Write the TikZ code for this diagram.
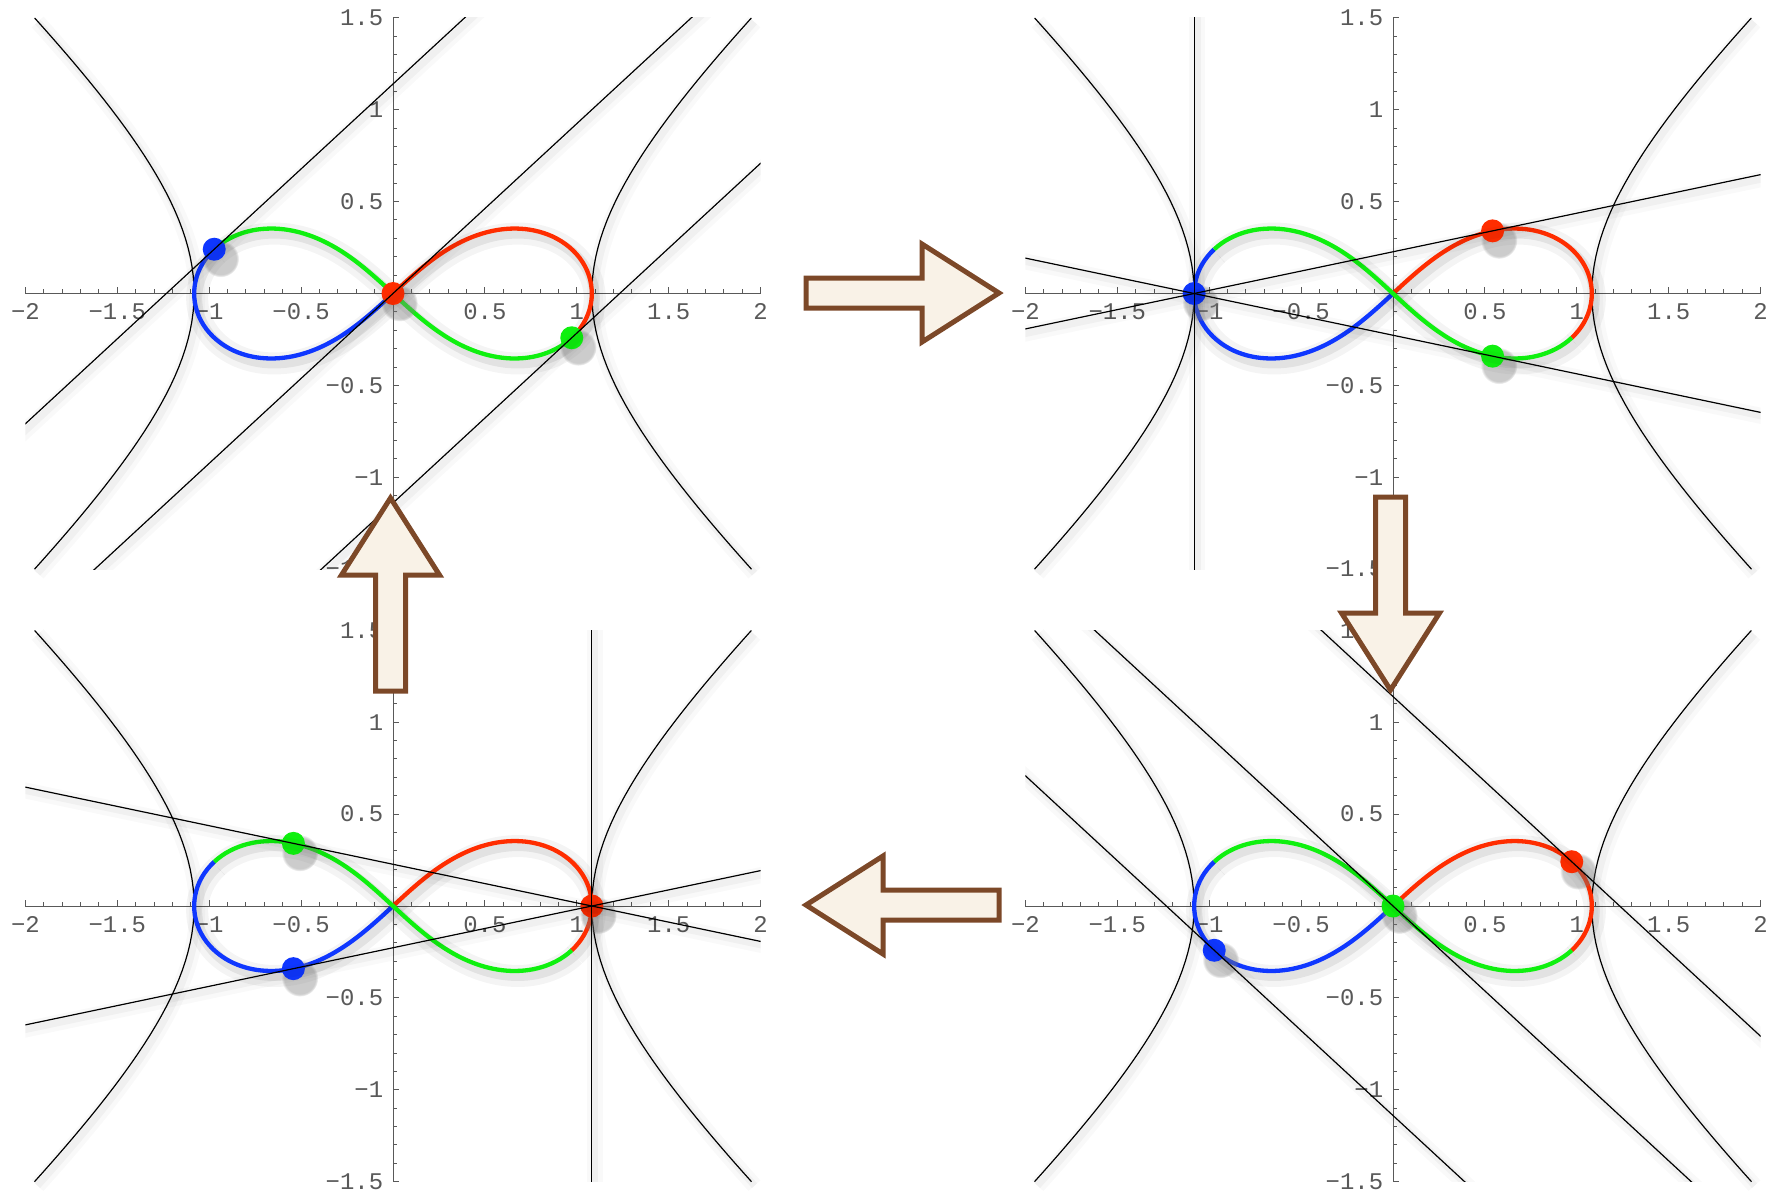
\documentclass[tikz,border=0pt]{standalone}
\usepackage{fontspec}
\newfontfamily\tickfont{Liberation Mono}
\usetikzlibrary{calc,shadows}

\definecolor{lemred}{RGB}{255,45,0}
\definecolor{lemgreen}{RGB}{15,240,15}
\definecolor{lemblue}{RGB}{15,55,255}
\definecolor{arrowedge}{RGB}{124,72,40}
\definecolor{arrowfill}{RGB}{249,242,231}

% horizontal stretch of the curves
\newcommand{\sx}{1.082}

% axes, hyperbola and coloured lemniscate of one panel
\newcommand{\lemnframe}[1]{%
  \draw[axis] (-2,0) -- (2,0);
  \draw[axis] (0,-1.5) -- (0,1.5);
  \foreach \i in {-20,...,20} \draw[axis] (\i/10,0) -- ++(0,0.022);
  \foreach \i in {-4,...,4} \draw[axis] (\i/2,0) -- ++(0,0.033);
  \foreach \i in {-15,...,15} \draw[axis] (0,\i/10) -- ++(0.022,0);
  \foreach \i in {-3,...,3} \draw[axis] (0,\i/2) -- ++(0.033,0);
  \foreach \v/\lab [count=\k] in {-2/−2,-1.5/−1.5,-1/−1,-0.5/−0.5,0.5/0.5,1/1,1.5/1.5,2/2}
    \node[ticklabel] (#1x\k) at (\v,-0.1) {\lab};
  \foreach \v/\lab [count=\k] in {1.5/1.5,1/1,0.5/0.5,-0.5/−0.5,-1/−1,-1.5/−1.5}
    \node[ticklabel,anchor=east] (#1y\k) at (-0.05,\v) {\lab};
  \foreach \sg in {-1,1}
    \draw[hypline] plot[variable=\y,domain=-1.5:1.5,samples=61] ({\sg*\sx*sqrt(1+\y*\y)},\y);
  \draw[lemn,lemred] plot[variable=\t,domain=-15.544:90,samples=70]
    ({\sx*cos(\t)/(1+sin(\t)^2)},{sin(\t)*cos(\t)/(1+sin(\t)^2)});
  \draw[lemn,lemblue] plot[variable=\t,domain=90:195.544,samples=70]
    ({\sx*cos(\t)/(1+sin(\t)^2)},{sin(\t)*cos(\t)/(1+sin(\t)^2)});
  \draw[lemn,lemgreen] plot[variable=\t,domain=195.544:344.456,samples=100]
    ({\sx*cos(\t)/(1+sin(\t)^2)},{sin(\t)*cos(\t)/(1+sin(\t)^2)});
}

\begin{document}
\begin{tikzpicture}[
  x=0.1mm, y=-0.1mm,
  axis/.style={draw=black!65, line width=0.1mm},
  ticklabel/.style={font=\tickfont\fontsize{6.8}{7}\selectfont, text=black!65, inner sep=0pt},
  haze/.style={
    preaction={draw=black, opacity=.025, line width=1.6mm, transform canvas={shift={(.3mm,-.4mm)}}},
    preaction={draw=black, opacity=.035, line width=.7mm, transform canvas={shift={(.3mm,-.4mm)}}}},
  hazebig/.style={
    preaction={draw=black, opacity=.045, line width=2.2mm, transform canvas={shift={(.3mm,-.5mm)}}},
    preaction={draw=black, opacity=.07, line width=1mm, transform canvas={shift={(.3mm,-.5mm)}}}},
  hypline/.style={draw=black, line width=0.12mm, haze},
  tangline/.style={draw=black, line width=0.12mm, haze},
  lemn/.style={line width=0.43mm, hazebig},
  dot/.style={circle, fill=#1, inner sep=0pt, minimum size=2.3mm,
    circular drop shadow={shadow xshift=.4mm, shadow yshift=-.6mm, shadow scale=1.6, opacity=.4}},
  bigarrow/.style={draw=arrowedge, fill=arrowfill, line width=0.5mm, line join=miter}
]
\useasboundingbox (0,0) rectangle (1781,1193);
\fill[white] (0,0) rectangle (1781,1193);

% top left
\begin{scope}[shift={(393,293.5)},x=18.38mm,y=18.38mm]
  \lemnframe{tl}
  \node[dot=lemred] (tlr) at (0,0) {};
  \node[dot=lemblue] (tlb) at (-0.9726,0.2409) {};
  \node[dot=lemgreen] (tlg) at (0.9726,-0.2409) {};
  \begin{scope}
    \clip (-2,-1.5) rectangle (2,1.5);
    \foreach \p in {tlb,tlr,tlg}
      \draw[tangline] ($(\p)+(-2*\sx,-2)$) -- ($(\p)+(2*\sx,2)$);
  \end{scope}
\end{scope}

% top right
\begin{scope}[shift={(1393,293.5)},x=18.38mm,y=18.38mm]
  \lemnframe{tr}
  \node[dot=lemblue] (trb) at (-\sx,0) {};
  \node[dot=lemred] (trr) at (0.5419,0.3408) {};
  \node[dot=lemgreen] (trg) at (0.5419,-0.3408) {};
  \begin{scope}
    \clip (-2,-1.5) rectangle (2,1.5);
    \draw[tangline] ($(trb)+(0,-2)$) -- ($(trb)+(0,2)$);
    \foreach \p in {trr,trg}
      \draw[tangline] ($(trb)!-2!(\p)$) -- ($(trb)!3!(\p)$);
  \end{scope}
\end{scope}

% bottom right
\begin{scope}[shift={(1393,906)},x=18.38mm,y=18.38mm]
  \lemnframe{br}
  \node[dot=lemgreen] (brg) at (0,0) {};
  \node[dot=lemred] (brr) at (0.9726,0.2409) {};
  \node[dot=lemblue] (brb) at (-0.9726,-0.2409) {};
  \begin{scope}
    \clip (-2,-1.5) rectangle (2,1.5);
    \foreach \p in {brb,brg,brr}
      \draw[tangline] ($(\p)+(-2*\sx,2)$) -- ($(\p)+(2*\sx,-2)$);
  \end{scope}
\end{scope}

% bottom left
\begin{scope}[shift={(393,906)},x=18.38mm,y=18.38mm]
  \lemnframe{bl}
  \node[dot=lemred] (blr) at (\sx,0) {};
  \node[dot=lemgreen] (blg) at (-0.5419,0.3408) {};
  \node[dot=lemblue] (blb) at (-0.5419,-0.3408) {};
  \begin{scope}
    \clip (-2,-1.5) rectangle (2,1.5);
    \draw[tangline] ($(blr)+(0,-2)$) -- ($(blr)+(0,2)$);
    \foreach \p in {blg,blb}
      \draw[tangline] ($(blr)!-2!(\p)$) -- ($(blr)!3!(\p)$);
  \end{scope}
\end{scope}

% the four block arrows
\foreach \ax/\ay/\ang in {806/293/0, 999/905/180, 390.5/691/90, 1390.5/497/-90}
  \draw[bigarrow,shift={(\ax,\ay)},rotate=\ang]
    (0,-15) -- (116,-15) -- (116,-49) -- (193,0) -- (116,49) -- (116,15) -- (0,15) -- cycle;
\end{tikzpicture}
\end{document}
